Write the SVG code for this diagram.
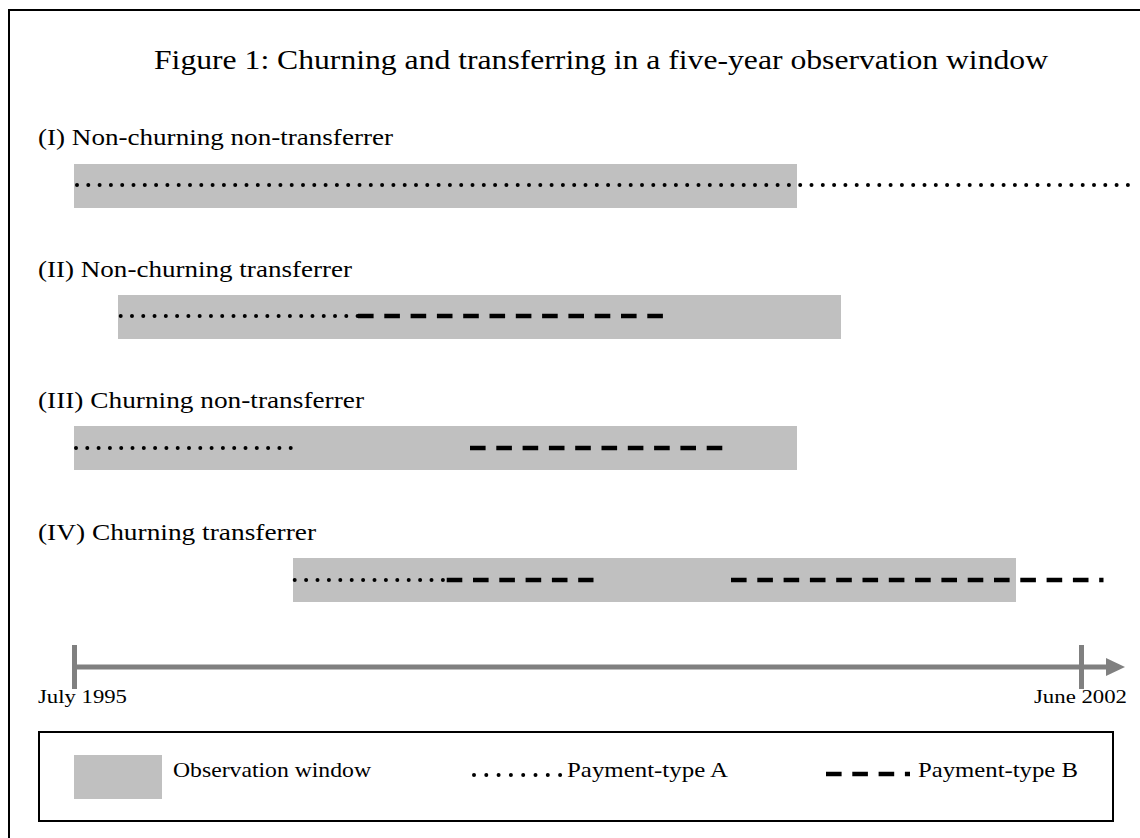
<svg xmlns="http://www.w3.org/2000/svg" width="1140" height="838" viewBox="0 0 1140 838">
<style>
text{font-family:"Liberation Serif","Times New Roman",serif;fill:#000}
.lbl{font-size:24px}
.ttl{font-size:28px}
.lg{font-size:21px}
.ax{font-size:19px}
.bar{fill:#c0c0c0}
.dot{fill:none;stroke:#000;stroke-width:4;stroke-linecap:round;stroke-dasharray:0 11.3}
.dash{fill:none;stroke:#000;stroke-width:4.5;stroke-linecap:butt;stroke-dasharray:15.6 10.7}
</style>
<rect x="9" y="10" width="1200" height="900" fill="#fff" stroke="#000" stroke-width="2"/>
<g id="title"><text class="ttl" x="154" y="69" textLength="894" lengthAdjust="spacingAndGlyphs">Figure 1: Churning and transferring in a five-year observation window</text></g>
<g id="row1">
<text class="lbl" x="38" y="145" textLength="355" lengthAdjust="spacingAndGlyphs">(I) Non-churning non-transferrer</text>
<rect class="bar" x="74" y="164" width="723" height="44"/>
</g>
<g id="row2">
<text class="lbl" x="38" y="277" textLength="314" lengthAdjust="spacingAndGlyphs">(II) Non-churning transferrer</text>
<rect class="bar" x="118" y="295" width="723" height="44"/>
</g>
<g id="row3">
<text class="lbl" x="38" y="408" textLength="326" lengthAdjust="spacingAndGlyphs">(III) Churning non-transferrer</text>
<rect class="bar" x="74" y="426" width="723" height="44"/>
</g>
<g id="row4">
<text class="lbl" x="38" y="540" textLength="278" lengthAdjust="spacingAndGlyphs">(IV) Churning transferrer</text>
<rect class="bar" x="293" y="558" width="723" height="44"/>
</g>
<g id="connectors">
<path class="dot" d="M77 185H1128.5"/>
<path class="dot" style="stroke-dasharray:0 11.28" d="M120.7 316H358"/>
<path class="dash" d="M358 316H663"/>
<path class="dot" d="M76 448H291"/>
<path class="dash" d="M470 448H723"/>
<path class="dot" style="stroke-dasharray:0 11.4" d="M294.7 580H443.5"/>
<path class="dash" d="M446.7 580H593.5"/>
<path class="dash" d="M731 580H1103.5"/>
</g>
<g id="axis">
<path d="M74 667H1108" stroke="#808080" stroke-width="5" fill="none"/>
<rect x="72" y="645" width="5" height="44" fill="#808080"/>
<rect x="1079" y="645" width="5" height="44" fill="#808080"/>
<polygon points="1106,658 1125,667 1106,676" fill="#808080"/>
<text class="ax" x="38" y="703" textLength="89" lengthAdjust="spacingAndGlyphs">July 1995</text>
<text class="ax" x="1034" y="703" textLength="93" lengthAdjust="spacingAndGlyphs">June 2002</text>
</g>
<g id="legend">
<rect x="39" y="732" width="1074" height="89" fill="none" stroke="#000" stroke-width="2"/>
<rect class="bar" x="74" y="755" width="88" height="44"/>
<text class="lg" x="173" y="777" textLength="198" lengthAdjust="spacingAndGlyphs">Observation window</text>
<path class="dot" style="stroke-dasharray:0 12.3" d="M474 775H561"/>
<text class="lg" x="567" y="777" textLength="161" lengthAdjust="spacingAndGlyphs">Payment-type A</text>
<path class="dash" d="M826 774H910"/>
<text class="lg" x="918" y="777" textLength="160" lengthAdjust="spacingAndGlyphs">Payment-type B</text>
</g>
</svg>
